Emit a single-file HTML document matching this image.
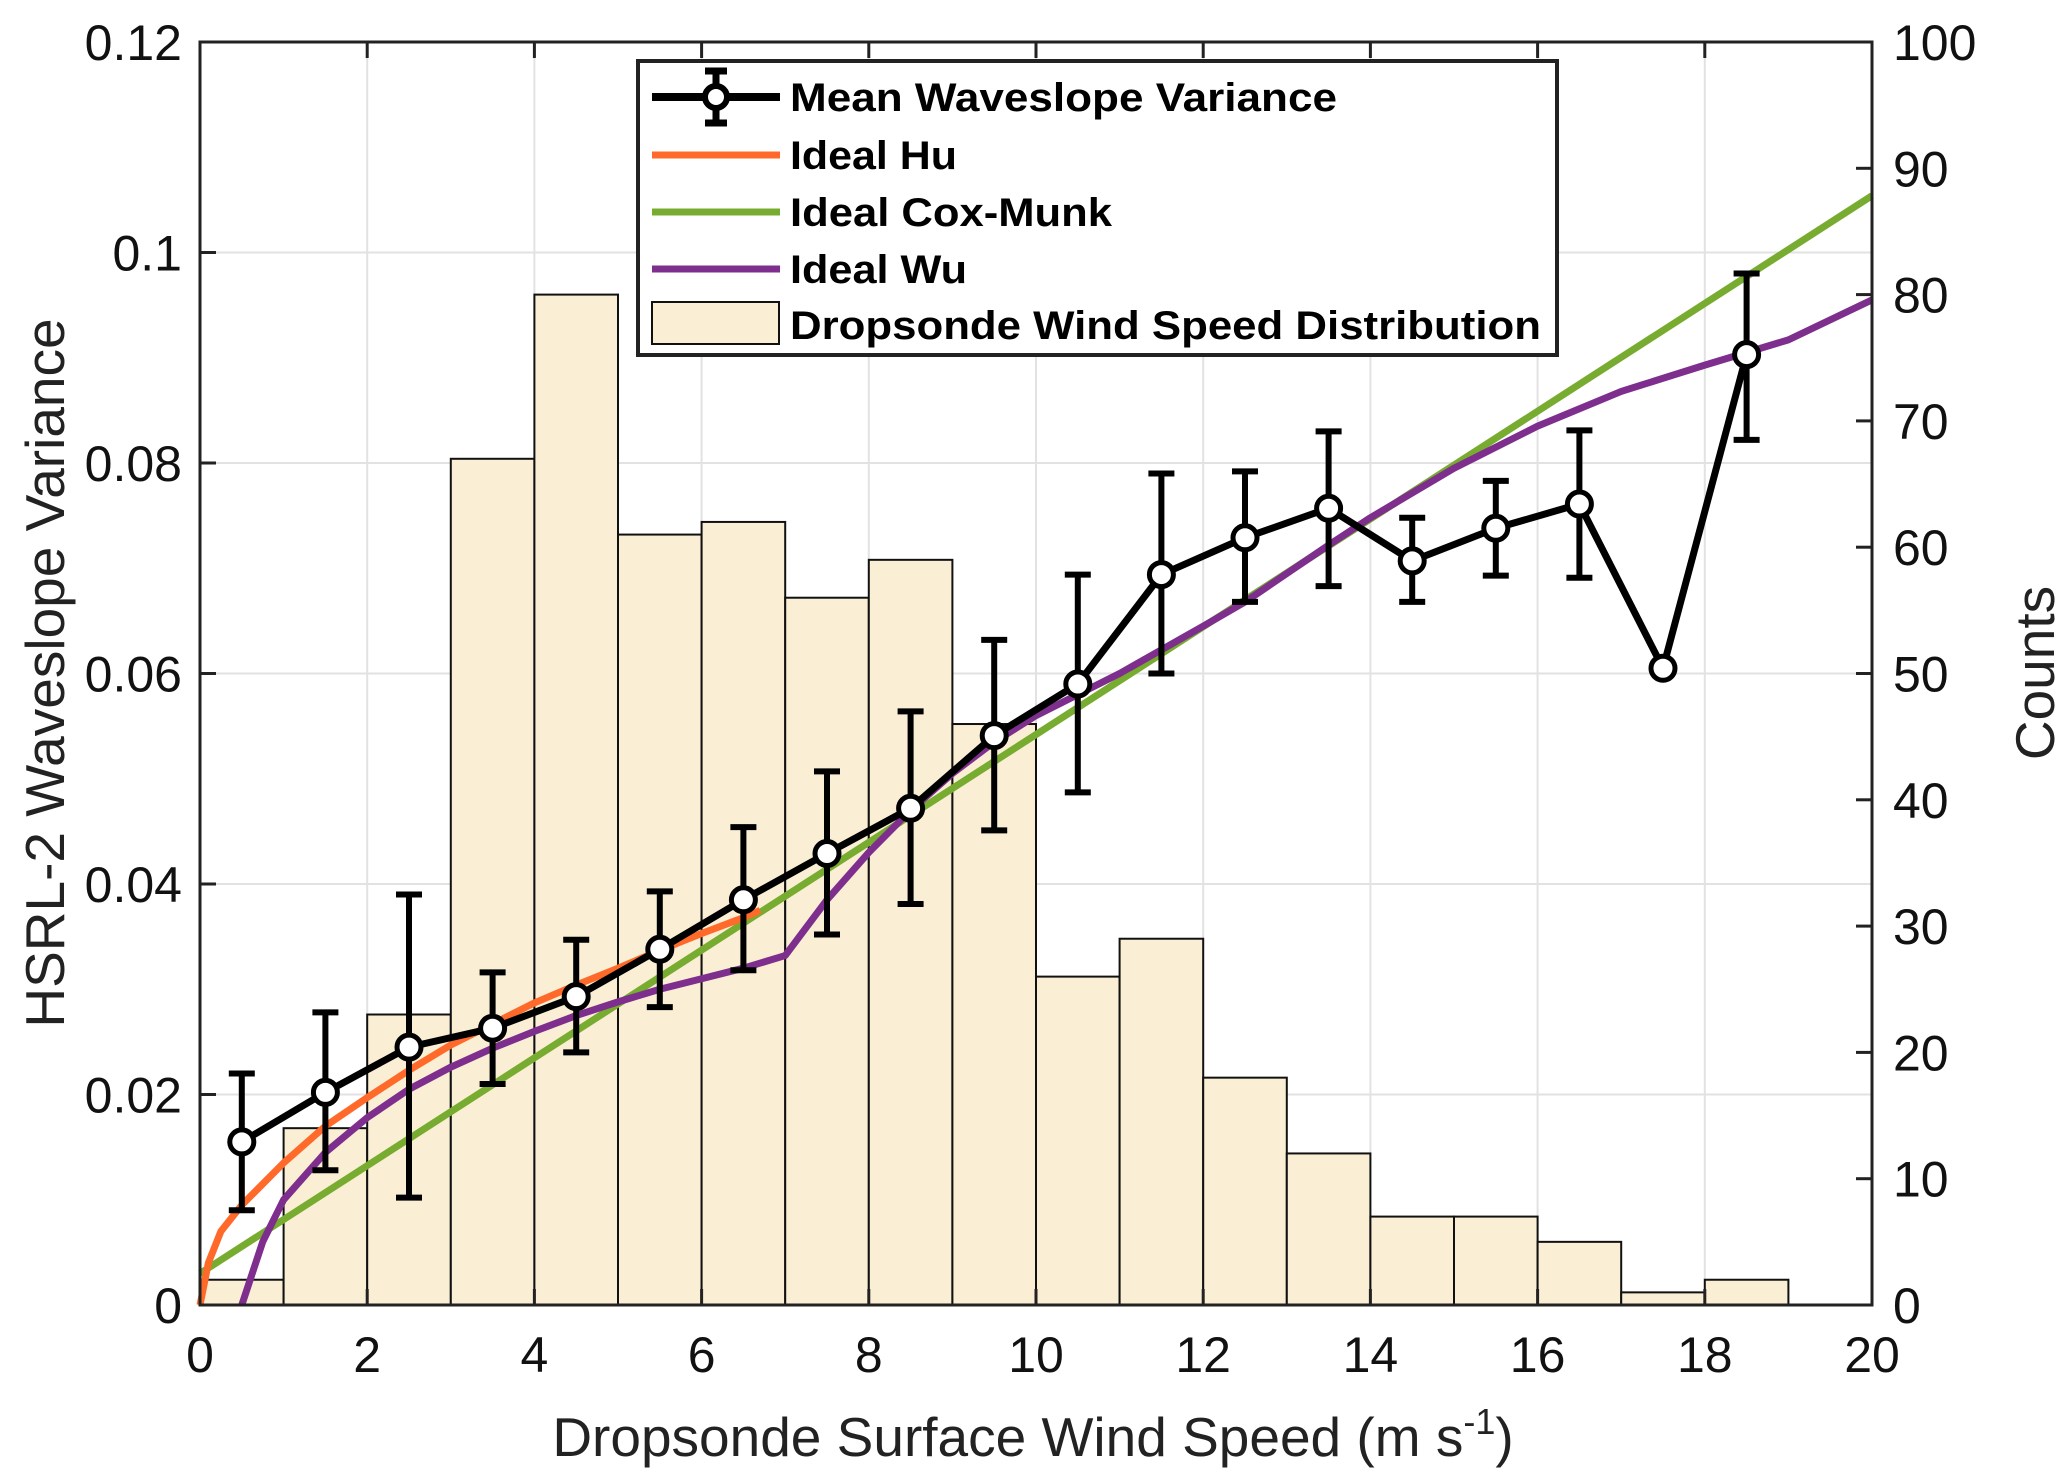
<!DOCTYPE html>
<html><head><meta charset="utf-8"><style>
html,body{margin:0;padding:0;background:#fff;}
svg{display:block;font-family:"Liberation Sans",Arial,sans-serif;}
</style></head><body>
<svg id="chart" width="2067" height="1480" viewBox="0 0 2067 1480">
<g id="grid"></g>
<g id="hist"></g>
<g id="curves"></g>
<g id="meas"></g>
<g id="axes"></g>
</svg>
<script>
const binEdges=[0,1,2,3,4,5,6,7,8,9,10,11,12,13,14,15,16,17,18,19];
const counts=[2,14,23,67,80,61,62,56,59,46,26,29,18,12,7,7,5,1,2];
const meanX=[0.5,1.5,2.5,3.5,4.5,5.5,6.5,7.5,8.5,9.5,10.5,11.5,12.5,13.5,14.5,15.5,16.5,17.5,18.5];
const meanY=[0.0155,0.0202,0.0245,0.0263,0.0293,0.0338,0.0385,0.0429,0.0472,0.0541,0.0590,0.0694,0.0729,0.0757,0.0707,0.0738,0.0761,0.0605,0.0903];
const errLow=[0.009,0.0128,0.0102,0.021,0.024,0.0283,0.0318,0.0352,0.0381,0.0451,0.0487,0.0600,0.0668,0.0683,0.0668,0.0693,0.0691,0.0605,0.0822];
const errHigh=[0.022,0.0278,0.039,0.0316,0.0347,0.0393,0.0454,0.0507,0.0564,0.0632,0.0694,0.0790,0.0792,0.0830,0.0748,0.0783,0.0831,0.0605,0.098];
const huX=[0,0.1,0.25,0.5,1,1.5,2,2.5,3,3.5,4,4.5,5,5.5,6,6.5,6.7];
const huY=[0,0.004,0.007,0.0095,0.0135,0.017,0.0197,0.0223,0.0247,0.0267,0.0287,0.0304,0.0320,0.0337,0.0353,0.0368,0.0375];
const cmX=[0,20];
const cmY=[0.003,0.1054];
const wuX=[0.5,0.75,1,1.5,2,2.5,3,3.5,4,4.5,5,5.5,6,6.5,7,7.5,8,8.5,9,9.5,10,11,12,12.5,13,13.5,14,15,16,17,18,18.5,19,20];
const wuY=[0,0.006,0.010,0.0145,0.0178,0.0205,0.0226,0.0244,0.026,0.0275,0.0288,0.030,0.031,0.032,0.0332,0.0385,0.043,0.047,0.0505,0.0535,0.056,0.060,0.0645,0.0668,0.0695,0.0722,0.0748,0.0795,0.0835,0.0868,0.0893,0.0905,0.0917,0.0955];
const xTicks=[0,2,4,6,8,10,12,14,16,18,20];
const yTicks=[0,0.02,0.04,0.06,0.08,0.1,0.12];
const yTickLabels=["0","0.02","0.04","0.06","0.08","0.1","0.12"];
const y2Ticks=[0,10,20,30,40,50,60,70,80,90,100];

const L=200,R=1872,T=42,B=1305;
const X=v=>L+(v-0)/20*(R-L);
const Y=v=>B-v/0.12*(B-T);
const Y2=v=>B-v/100*(B-T);
const NS="http://www.w3.org/2000/svg";
function mk(parent,tag,attrs,text){const e=document.createElementNS(NS,tag);for(const k in attrs)e.setAttribute(k,attrs[k]);if(text!==undefined)e.textContent=text;parent.appendChild(e);return e;}
const G=id=>document.getElementById(id);

xTicks.forEach(t=>{if(t>0&&t<20){const l=mk(G('grid'),'line',{x1:X(t),x2:X(t),y1:T,y2:B,stroke:'#e2e2e2','stroke-width':2});

}});
yTicks.forEach(t=>{if(t>0&&t<0.12){const l=mk(G('grid'),'line',{x1:L,x2:R,y1:Y(t),y2:Y(t),stroke:'#e2e2e2','stroke-width':2});

}});

counts.forEach((c,i)=>{const x0=X(binEdges[i]),x1=X(binEdges[i]+1);const r=mk(G('hist'),'rect',{x:x0,y:Y2(c),width:x1-x0,height:B-Y2(c),fill:'#faefd4',stroke:'#111','stroke-width':2});

});

function poly(xs,ys,color,name){const pts=xs.map((x,i)=>X(x)+','+Y(ys[i])).join(' ');const p=mk(G('curves'),'polyline',{points:pts,fill:'none',stroke:color,'stroke-width':7,'stroke-linejoin':'round'});

}
poly(cmX,cmY,'#77ac30','cox-munk-line');
poly(wuX,wuY,'#7e2f8e','wu-line');
poly(huX,huY,'#ff6a2b','hu-line');

const pts=meanX.map((x,i)=>X(x)+','+Y(meanY[i])).join(' ');
const ml=mk(G('meas'),'polyline',{points:pts,fill:'none',stroke:'#000','stroke-width':7,'stroke-linejoin':'round'});


meanX.forEach((x,i)=>{const cx=X(x);
 if(errHigh[i]>errLow[i]){const e=mk(G('meas'),'path',{d:`M${cx},${Y(errLow[i])}V${Y(errHigh[i])}M${cx-13},${Y(errLow[i])}H${cx+13}M${cx-13},${Y(errHigh[i])}H${cx+13}`,stroke:'#000','stroke-width':6,fill:'none'});
 
 }
 const c=mk(G('meas'),'circle',{cx:cx,cy:Y(meanY[i]),r:12,fill:'#fff',stroke:'#000','stroke-width':5});
 
 });

const ax=G('axes');
const fr=mk(ax,'rect',{x:L,y:T,width:R-L,height:B-T,fill:'none',stroke:'#222','stroke-width':3});


xTicks.forEach(t=>{mk(ax,'line',{x1:X(t),x2:X(t),y1:B,y2:B-16,stroke:'#222','stroke-width':3});mk(ax,'line',{x1:X(t),x2:X(t),y1:T,y2:T+16,stroke:'#222','stroke-width':3});
 const tx=mk(ax,'text',{x:X(t),y:1372,'text-anchor':'middle','font-size':50,fill:'#111'},String(t));
 
 });
yTicks.forEach((t,i)=>{mk(ax,'line',{x1:L,x2:L+16,y1:Y(t),y2:Y(t),stroke:'#222','stroke-width':3});
 const tx=mk(ax,'text',{x:182,y:Y(t)+18,'text-anchor':'end','font-size':50,fill:'#111'},yTickLabels[i]);
 
 });
y2Ticks.forEach(t=>{mk(ax,'line',{x1:R,x2:R-16,y1:Y2(t),y2:Y2(t),stroke:'#222','stroke-width':3});
 const tx=mk(ax,'text',{x:1893,y:Y2(t)+18,'text-anchor':'start','font-size':50,fill:'#111'},String(t));
 
 });
</script>
<svg style="position:absolute;left:0;top:0" width="2067" height="1480">
<text x="1033" y="1456" text-anchor="middle" font-size="55" fill="#222" font-family="Liberation Sans, sans-serif">Dropsonde Surface Wind Speed (m s<tspan dy="-22" font-size="36">-1</tspan><tspan dy="22">)</tspan></text>
<text transform="translate(64,673) rotate(-90)" text-anchor="middle" font-size="55" fill="#222" font-family="Liberation Sans, sans-serif">HSRL-2 Waveslope Variance</text>
<text transform="translate(2054,673) rotate(-90)" text-anchor="middle" font-size="55" fill="#222" font-family="Liberation Sans, sans-serif">Counts</text>
<g font-family="Liberation Sans, sans-serif" font-weight="bold" font-size="40" fill="#000">
<rect x="638" y="61" width="919" height="294" fill="#fff" stroke="#222" stroke-width="4"/>
<g>
<line x1="652" y1="97" x2="780" y2="97" stroke="#000" stroke-width="8"/>
<path d="M716,71V123M705,71H727M705,123H727" stroke="#000" stroke-width="7"/>
<circle cx="716" cy="97" r="11" fill="#fff" stroke="#000" stroke-width="6"/>
<text x="790" y="111" textLength="547" lengthAdjust="spacingAndGlyphs">Mean Waveslope Variance</text></g>
<g><line x1="652" y1="155" x2="780" y2="155" stroke="#ff6a2b" stroke-width="7"/><text x="790" y="169" textLength="167" lengthAdjust="spacingAndGlyphs">Ideal Hu</text></g>
<g><line x1="652" y1="212" x2="780" y2="212" stroke="#77ac30" stroke-width="7"/><text x="790" y="226" textLength="322" lengthAdjust="spacingAndGlyphs">Ideal Cox-Munk</text></g>
<g><line x1="652" y1="269" x2="780" y2="269" stroke="#7e2f8e" stroke-width="7"/><text x="790" y="283" textLength="177" lengthAdjust="spacingAndGlyphs">Ideal Wu</text></g>
<g><rect x="652" y="302" width="127" height="42" fill="#faefd4" stroke="#111" stroke-width="2"/><text x="790" y="339" textLength="751" lengthAdjust="spacingAndGlyphs">Dropsonde Wind Speed Distribution</text></g>
</g>
</svg>
</body></html>
